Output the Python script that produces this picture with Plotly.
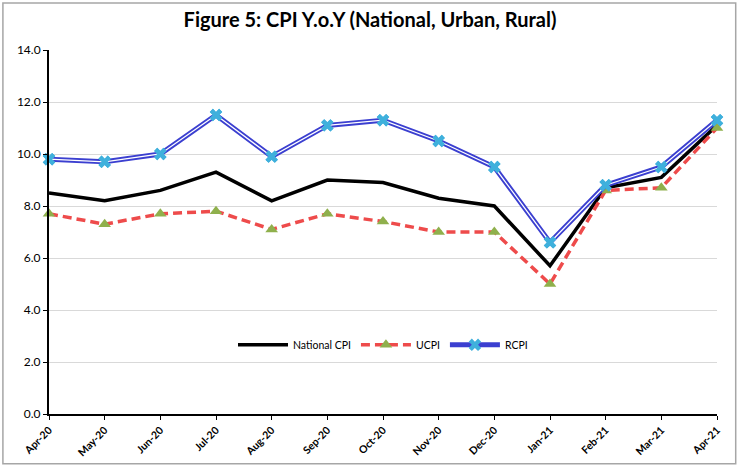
import plotly.graph_objects as go

months = ["Apr-20", "May-20", "Jun-20", "Jul-20", "Aug-20", "Sep-20", "Oct-20",
          "Nov-20", "Dec-20", "Jan-21", "Feb-21", "Mar-21", "Apr-21"]
national_cpi = [8.5, 8.2, 8.6, 9.3, 8.2, 9.0, 8.9, 8.3, 8.0, 5.7, 8.7, 9.1, 11.1]
ucpi = [7.7, 7.3, 7.7, 7.8, 7.1, 7.7, 7.4, 7.0, 7.0, 5.0, 8.6, 8.7, 11.0]
rcpi = [9.8, 9.7, 10.0, 11.5, 9.9, 11.1, 11.3, 10.5, 9.5, 6.6, 8.8, 9.5, 11.3]
y_ticks = [0, 2, 4, 6, 8, 10, 12, 14]

fig = go.Figure()
fig.add_trace(go.Scatter(x=months, y=national_cpi, name="National CPI", mode="lines",
                         line=dict(color="black", width=3.5), cliponaxis=False))
fig.add_trace(go.Scatter(x=months, y=ucpi, name="UCPI", mode="lines+markers",
                         line=dict(color="#ee4b4b", width=3.5, dash="9px,5px"),
                         marker=dict(symbol="triangle-up", size=11, color="#8fb04c"),
                         cliponaxis=False))
fig.add_trace(go.Scatter(x=months, y=rcpi, name="RCPI", mode="lines+markers",
                         line=dict(color="#3b3fd0", width=5),
                         marker=dict(symbol="x", size=11, color="#3fb0dc",
                                     line=dict(width=0)),
                         cliponaxis=False))
fig.add_trace(go.Scatter(x=months, y=rcpi, mode="lines", showlegend=False,
                         line=dict(color="white", width=1.3), hoverinfo="skip",
                         cliponaxis=False))
fig.add_trace(go.Scatter(x=months, y=rcpi, mode="markers", showlegend=False,
                         marker=dict(symbol="x", size=11, color="#3fb0dc",
                                     line=dict(width=0)), hoverinfo="skip",
                         cliponaxis=False))

fig.update_layout(
    width=740, height=470, autosize=False,
    margin=dict(l=49, r=23, t=50, b=56),
    paper_bgcolor="white", plot_bgcolor="white",
    font=dict(family="Lato", color="black"),
    title=dict(text="<b>Figure 5: CPI Y.o.Y (National, Urban, Rural)</b>",
               x=0.5, xanchor="center", y=0.957, yanchor="middle",
               font=dict(size=20, family="Lato", color="black")),
    legend=dict(orientation="h", x=0.5, xanchor="center", y=0.19, yanchor="middle",
                font=dict(size=10.5, family="Lato"), bgcolor="rgba(0,0,0,0)",
                itemwidth=50, tracegroupgap=0),
    showlegend=True,
    xaxis=dict(type="category", range=[0, 12], showgrid=False,
               showline=True, linecolor="black", linewidth=2,
               ticks="outside", ticklen=4, tickcolor="black",
               tickangle=-45, tickfont=dict(size=10.5, family="Lato"),
               zeroline=False),
    yaxis=dict(range=[0, 14], tickvals=y_ticks, tickformat=".1f",
               showgrid=True, gridcolor="#d9d9d9", gridwidth=1,
               showline=True, linecolor="black", linewidth=2,
               ticks="outside", ticklen=4, tickcolor="black",
               tickfont=dict(size=12, family="Lato"), zeroline=False),
    shapes=[dict(type="rect", xref="paper", yref="paper",
                 x0=-0.069, x1=1.028, y0=-0.137, y1=1.129,
                 line=dict(color="#a6a6a6", width=1.5), fillcolor="rgba(0,0,0,0)",
                 layer="below")],
)
fig.update_xaxes(tickprefix="<b>", ticksuffix="</b>")
fig.update_yaxes(tickprefix="<b>", ticksuffix="</b>")
fig.write_html("out.html", config={"displayModeBar": False},
               post_script="document.body.style.margin='0';document.body.style.padding='0';")
